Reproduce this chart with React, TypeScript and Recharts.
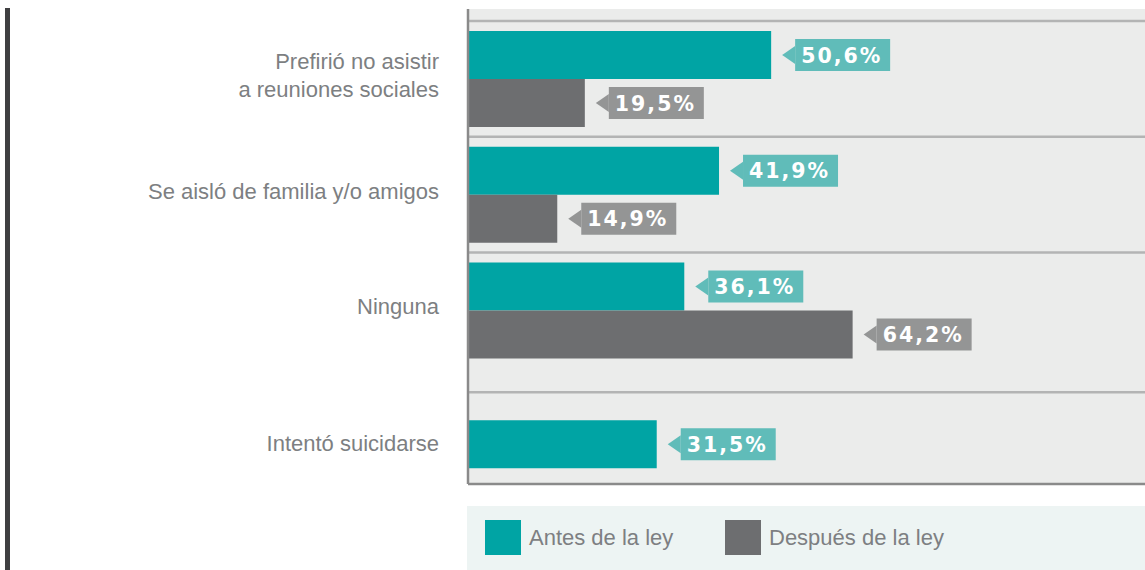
import { BarChart, Bar, XAxis, YAxis, CartesianGrid, LabelList } from "recharts";

const categories = [
  "Prefirió no asistir\na reuniones sociales",
  "Se aisló de familia y/o amigos",
  "Ninguna",
  "Intentó suicidarse",
];
const antes = [50.6, 41.9, 36.1, 31.5];
const despues: (number | null)[] = [19.5, 14.9, 64.2, null];
const seriesNames = ["Antes de la ley", "Después de la ley"];

const TEAL = "#00a4a4";
const GRAY = "#6d6e70";
const TEAL_TAG = "#60bcb9";
const GRAY_TAG = "#949595";
const TEXT = "#7d7f82";
const FONT = '"Liberation Sans", Arial, sans-serif';

const BAR = 48;
const PAD_TOP = 12;

const rows = categories.map((label, i) => ({ label, antes: antes[i], despues: despues[i] }));

// a lone "antes" bar (no "después" value) sits lower in its band, like in the printed chart
const loneShift = (row: any) => (row && row.despues == null ? BAR - 6 : 0);

const fmt = (v: number) => v.toFixed(1).replace(".", ",") + "%";

const AntesShape = (p: any) => (
  <rect x={p.x} y={p.y + loneShift(p.payload)} width={p.width} height={p.height} fill={TEAL} />
);

const makeTag = (fill: string, shifted: boolean) => (p: any) => {
  const { x, y, width, height, value, index } = p;
  if (value == null) return null;
  const dy = shifted ? loneShift(rows[index]) : 0;
  const cy = y + height / 2 + dy;
  const tip = x + width + 11;
  const bx = tip + 13;
  return (
    <g>
      <polygon points={`${tip},${cy} ${bx},${cy - 9} ${bx},${cy + 9}`} fill={fill} />
      <rect x={bx} y={cy - 16} width={95} height={32} fill={fill} />
      <text
        x={bx + 6}
        y={cy + 7.5}
        fill="#ffffff"
        fontFamily='"DejaVu Sans", sans-serif'
        fontWeight="bold"
        fontSize={20.5}
        letterSpacing={2}
      >
        {fmt(value)}
      </text>
    </g>
  );
};

const CategoryTick = (p: any) => {
  const { x, y, payload } = p;
  const row = rows.find((r) => r.label === payload.value);
  const lines = String(payload.value).split("\n");
  const cy = y + loneShift(row) / 2;
  const first = cy + 4 - ((lines.length - 1) * 28) / 2;
  return (
    <text x={x} y={first} textAnchor="end" fill={TEXT} fontFamily={FONT} fontSize={22}>
      {lines.map((l, i) => (
        <tspan key={i} x={x} y={first + i * 28}>
          {l}
        </tspan>
      ))}
    </text>
  );
};

const gridLines = ({ offset }: any) => {
  const top = offset.top + PAD_TOP;
  const band = (offset.height - PAD_TOP) / rows.length;
  return rows.map((r, i) => top + i * band + (r.despues == null ? BAR / 2 : 0));
};

export default function App() {
  return (
    <div style={{ position: "fixed", left: 0, top: 0, width: 1145, height: 570, background: "#ffffff" }}>
      <div style={{ position: "absolute", left: 5, top: 8, width: 5, height: 562, background: "#3f3f41", zIndex: 2 }} />
      <div style={{ position: "absolute", left: 0, top: 0 }}>
        <BarChart
          width={1145}
          height={570}
          data={rows}
          layout="vertical"
          barSize={BAR}
          barGap={0}
          margin={{ top: 9, right: 0, bottom: 85, left: 0 }}
        >
          <CartesianGrid
            vertical={false}
            fill="#ebeceb"
            fillOpacity={1}
            stroke="#b3b4b4"
            strokeWidth={2.5}
            horizontalCoordinatesGenerator={gridLines}
          />
          <XAxis
            type="number"
            domain={[0, 113]}
            height={1}
            tick={false}
            tickLine={false}
            axisLine={{ stroke: "#8a8a8a", strokeWidth: 2.5 }}
          />
          <YAxis
            type="category"
            dataKey="label"
            width={468}
            interval={0}
            padding={{ top: PAD_TOP, bottom: 0 }}
            tickLine={false}
            tickSize={0}
            tickMargin={29}
            axisLine={{ stroke: "#8a8a8a", strokeWidth: 2.5 }}
            tick={CategoryTick}
          />
          <Bar dataKey="antes" name={seriesNames[0]} fill={TEAL} shape={AntesShape} isAnimationActive={false}>
            <LabelList dataKey="antes" content={makeTag(TEAL_TAG, true)} />
          </Bar>
          <Bar dataKey="despues" name={seriesNames[1]} fill={GRAY} isAnimationActive={false}>
            <LabelList dataKey="despues" content={makeTag(GRAY_TAG, false)} />
          </Bar>
        </BarChart>
      </div>
      <div
        style={{
          position: "absolute",
          left: 467,
          top: 506,
          width: 678,
          height: 64,
          background: "#edf4f3",
          fontFamily: FONT,
          fontSize: 22,
          color: TEXT,
        }}
      >
        {seriesNames.map((name, i) => (
          <div
            key={name}
            style={{ position: "absolute", left: i === 0 ? 18 : 258, top: 14, display: "flex", alignItems: "center" }}
          >
            <div style={{ width: 36, height: 35, background: i === 0 ? TEAL : GRAY, marginRight: 8 }} />
            <span style={{ lineHeight: "35px" }}>{name}</span>
          </div>
        ))}
      </div>
    </div>
  );
}
